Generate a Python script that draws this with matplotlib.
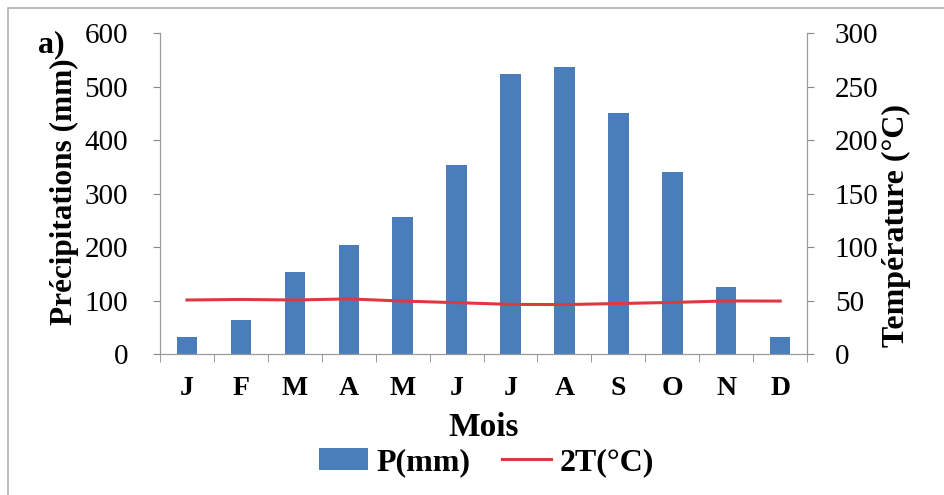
import matplotlib
matplotlib.use('Agg')
import matplotlib.pyplot as plt
import numpy as np
from matplotlib.patches import Rectangle

months = ["J", "F", "M", "A", "M", "J", "J", "A", "S", "O", "N", "D"]
precip = [31, 63, 154, 204, 256, 353, 523, 537, 451, 341, 125, 31]
temp2 = [50.5, 51, 50.5, 51.5, 49.5, 48, 46.4, 46.2, 47.2, 48.2, 49.6, 49.5]

plt.rcParams['font.family'] = ['Liberation Serif', 'DejaVu Serif']

fig = plt.figure(figsize=(9.44, 4.95), dpi=100)
fig.patches.append(Rectangle((0.0085, -0.05), 1.1, 1.034, transform=fig.transFigure,
                             fill=False, edgecolor="#b0b0b0", linewidth=1.2))

ax = fig.add_axes([0.1695, 0.2848, 0.6855, 0.6485])
x = np.arange(len(months))
bars = ax.bar(x, precip, width=0.38, color="#4a7ebb", label="P(mm)", zorder=2)
ax.set_xlim(-0.5, 11.5)
ax.set_ylim(0, 600)
ax.set_yticks(range(0, 601, 100))
ax.set_xticks(x)
ax.set_xticklabels(months, fontweight="bold", fontsize=20)
ax.set_xticks(np.arange(-0.5, 12, 1), minor=True)
ax.tick_params(axis="x", which="major", length=0, pad=16)
ax.tick_params(axis="x", which="minor", length=6, color="#888888", direction="out")
ax.tick_params(axis="y", labelsize=21, length=5, color="#888888", pad=18)
ax.spines["top"].set_visible(False)
for s in ["left", "bottom", "right"]:
    ax.spines[s].set_color("#999999")
ax.set_ylabel("Précipitations (mm)", fontweight="bold", fontsize=22.5)
ax.yaxis.set_label_coords(-0.125, 0.505)
ax.set_xlabel("Mois", fontweight="bold", fontsize=24, labelpad=8)

ax2 = ax.twinx()
line, = ax2.plot(x, temp2, color="#e03840", linewidth=2.2, label="2T(°C)", zorder=3)
ax2.set_ylim(0, 300)
ax2.set_yticks(range(0, 301, 50))
ax2.tick_params(axis="y", labelsize=21, length=5, color="#888888", pad=15)
ax2.spines["top"].set_visible(False)
for s in ["left", "bottom", "right"]:
    ax2.spines[s].set_color("#999999")
ax2.set_ylabel("Température (°C)", fontweight="bold", fontsize=23)
ax2.yaxis.set_label_coords(1.115, 0.40)

fig.text(0.040, 1 - 52 / 495, "a)", fontweight="bold", fontsize=23, va="baseline")

fig.legend([bars, line], ["P(mm)", "2T(°C)"], loc="center", bbox_to_anchor=(0.515, 0.066),
           ncol=2, frameon=False, prop={"weight": "bold", "size": 23},
           handlelength=1.55, handletextpad=0.25, columnspacing=1.0)

fig.savefig("out.png", dpi=100)
